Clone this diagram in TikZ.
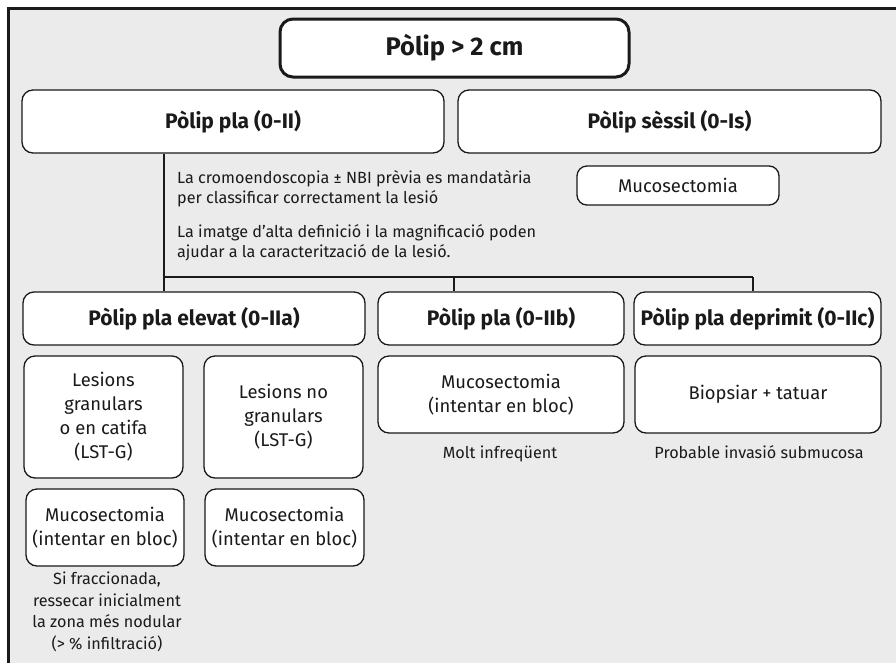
\documentclass[tikz,border=0pt]{standalone}
\usepackage{fontspec}
\setmainfont{Fira Sans}
\definecolor{framegray}{HTML}{EBEBEB}
\definecolor{ink}{HTML}{1A1A1A}
\begin{document}
\begin{tikzpicture}[x=1pt,y=-1pt,
  box/.style={draw=ink, fill=white, line width=1.3pt, rounded corners=11pt, inner sep=0pt, align=center, text=ink},
  head/.style={box, font=\fontsize{21}{25}\selectfont\bfseries},
  body/.style={box, font=\fontsize{18.4}{24}\selectfont},
  note/.style={inner sep=0pt, text=ink, font=\fontsize{16.2}{21.5}\selectfont},
  link/.style={draw=ink, line width=1.3pt}]
\useasboundingbox (0,0) rectangle (896,662);
\fill[white] (0,0) rectangle (896,662);
\draw[line width=3pt, draw=ink, fill=framegray] (8,8) rectangle (905,675);
% level 1
\node[box, line width=3pt, rounded corners=13pt, minimum width=349pt, minimum height=58pt,
      font=\fontsize{25.5}{29}\selectfont\bfseries] (title) at (454.5,48) {Pòlip > 2 cm};
% level 2
\node[head, minimum width=422pt, minimum height=63pt] (pla) at (233,121.5) {Pòlip pla (0-II)};
\node[head, minimum width=423pt, minimum height=63pt] (sessil) at (669.5,121.5) {Pòlip sèssil (0-Is)};
\node[body, minimum width=202pt, minimum height=39pt, rounded corners=10pt] (mucS) at (678,185.5) {Mucosectomia};
% notes under pla
\node[note, anchor=base west] (n1) at (177,183) {La cromoendoscopia ± NBI prèvia es mandatària};
\node[note, anchor=base west] (n2) at (177,203) {per classificar correctament la lesió};
\node[note, anchor=base west] (n3) at (177,237) {La imatge d’alta definició i la magnificació poden};
\node[note, anchor=base west] (n4) at (177,257) {ajudar a la caracterització de la lesió.};
% level 3
\node[head, minimum width=342pt, minimum height=53pt] (elevat) at (194,318.5) {Pòlip pla elevat (0-IIa)};
\node[head, minimum width=246pt, minimum height=53pt] (IIb) at (501,318.5) {Pòlip pla (0-IIb)};
\node[head, minimum width=247pt, minimum height=53pt] (IIc) at (757.5,318.5) {Pòlip pla deprimit (0-IIc)};
% connectors
\coordinate (j1) at (164,277);
\coordinate (j2) at (454,277);
\coordinate (j3) at (753,277);
\draw[link] (pla.south -| j1) -- (elevat.north -| j1);
\draw[link] (j1) -- (j3);
\draw[link] (j2) -- (IIb.north -| j2);
\draw[link] (j3) -- (IIc.north -| j3);
% level 4
\node[body, minimum width=159pt, minimum height=122pt] (gran) at (103.5,417) {Lesions\\granulars\\o en catifa\\(LST-G)};
\node[body, minimum width=159pt, minimum height=122pt] (nogran) at (283.5,417) {Lesions no\\granulars\\(LST-G)};
\node[body, minimum width=246pt, minimum height=77pt] (mucB) at (501,394.5) {Mucosectomia\\(intentar en bloc)};
\node[body, minimum width=246pt, minimum height=77pt] (biop) at (758,394.5) {Biopsiar + tatuar};
\node[note, anchor=base] (molt) at (500,458) {Molt infreqüent};
\node[note, anchor=base] (prob) at (759,458) {Probable invasió submucosa};
% level 5
\node[body, minimum width=158pt, minimum height=77pt] (muc1) at (105,527.5) {Mucosectomia\\(intentar en bloc)};
\node[body, minimum width=159pt, minimum height=77pt] (muc2) at (284.5,527.5) {Mucosectomia\\(intentar en bloc)};
\node[note, align=center, anchor=north] (si) at (107,572) {Si fraccionada,\\ressecar inicialment\\la zona més nodular\\(> \% infiltració)};
\end{tikzpicture}
\end{document}
